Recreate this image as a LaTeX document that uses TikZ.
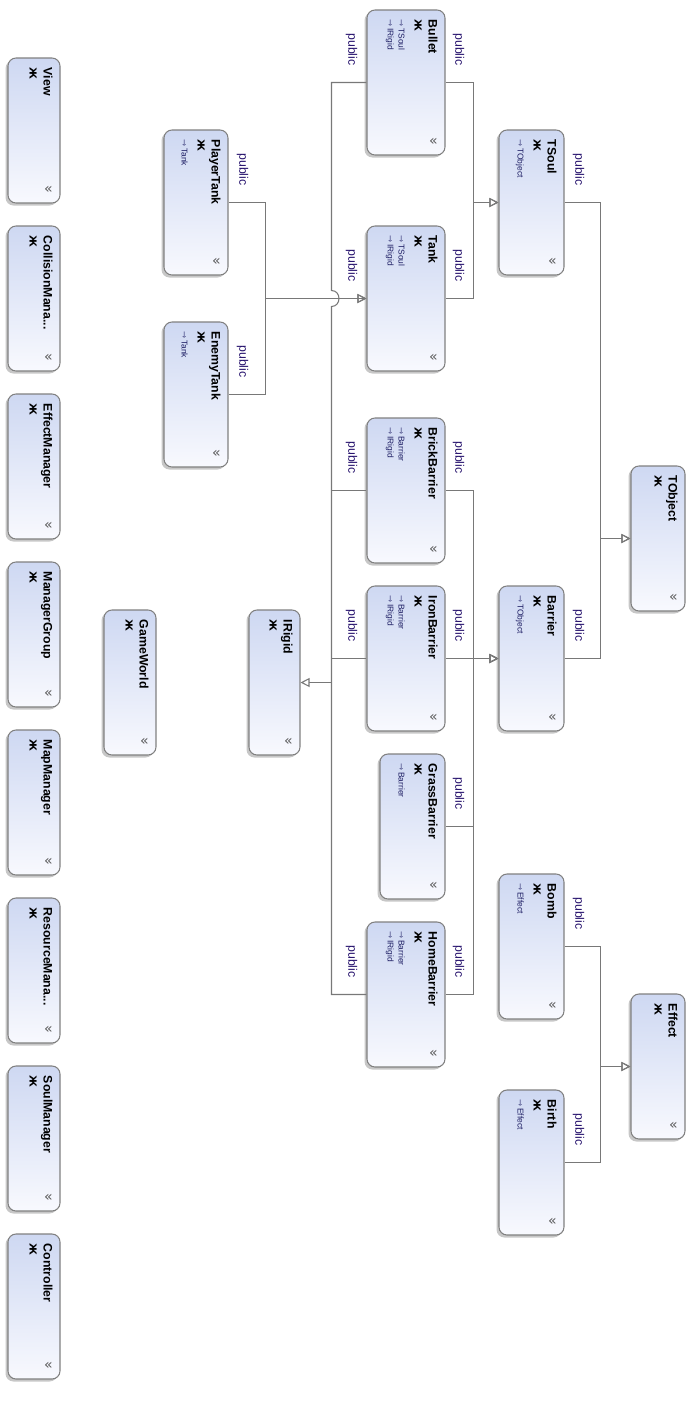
\documentclass[tikz,border=0pt]{standalone}
\usepackage{fontspec}
\setmainfont{Liberation Sans}
\newfontfamily\djv{DejaVu Sans}
\usetikzlibrary{calc,fit,shadows,arrows.meta}
\definecolor{boxtop}{RGB}{206,216,242}
\definecolor{boxbot}{RGB}{248,249,254}
\definecolor{boxline}{RGB}{128,128,128}
\definecolor{connline}{RGB}{120,120,120}
\definecolor{pubcol}{RGB}{40,20,110}
\definecolor{basecol}{RGB}{30,30,100}
\definecolor{chevcol}{RGB}{90,90,90}
\tikzset{
  clsnode/.style={draw=boxline, line width=0.6pt, rounded corners=0.16cm, inner sep=0pt,
    top color=boxtop, bottom color=boxbot,
    drop shadow={shadow xshift=-0.05cm, shadow yshift=-0.05cm, fill=black!22, opacity=1}},
  titletxt/.style={rotate=-90, inner sep=0pt, font=\fontsize{7}{8}\selectfont\bfseries, anchor=base west},
  icontxt/.style={rotate=-90, inner sep=0pt, font=\djv\fontsize{5.5}{6}\selectfont\bfseries, anchor=base west},
  basetxt/.style={rotate=-90, inner sep=0pt, font=\fontsize{4.8}{5}\selectfont, text=basecol, anchor=base west},
  chev/.style={inner sep=0pt, font=\djv\fontsize{8}{8}\selectfont, text=chevcol},
  pub/.style={rotate=-90, inner sep=0pt, font=\fontsize{7}{8}\selectfont, text=pubcol},
  conn/.style={draw=connline, line width=0.6pt},
  inh/.style={conn, -{Triangle[open, length=0.18cm, width=0.18cm]}}
}
\newcommand\clsbox[6]{%
  \path (#2,#3) coordinate (#1-a) (#4,#5) coordinate (#1-b);
  \node[clsnode, fit=(#1-a)(#1-b)] (#1) {};
  \node[titletxt] (#1-t) at ($(#1.north east)+(-17,10)$) {#6};
  \node[icontxt] (#1-i) at ($(#1.north east)+(-31,10)$) {Ж};
  \node[chev] (#1-c) at ($(#1.south east)+(-12,-14)$) {«};
}
\newcommand\clsbase[4]{%
  \node[basetxt] (#1-#2) at ($(#1.north east)+(#3,10)$) {{\djv ⇾}\,#4};
}
\begin{document}
\begin{tikzpicture}[x=0.02cm, y=-0.02cm]
\useasboundingbox (0,0) rectangle (695,1423);

% standalone classes
\clsbox{view}{8}{58}{60}{203}{View}
\clsbox{collision}{8}{226}{60}{371}{CollisionMana...}
\clsbox{effectmgr}{8}{394}{60}{539}{EffectManager}
\clsbox{mgrgroup}{8}{562}{60}{707}{ManagerGroup}
\clsbox{mapmgr}{8}{730}{60}{875}{MapManager}
\clsbox{resmgr}{8}{898}{60}{1043}{ResourceMana...}
\clsbox{soulmgr}{8}{1066}{60}{1211}{SoulManager}
\clsbox{controller}{8}{1234}{60}{1379}{Controller}
\clsbox{gameworld}{104}{610}{156}{755}{GameWorld}

% hierarchy
\clsbox{playertank}{164}{130}{228}{275}{PlayerTank}
\clsbase{playertank}{b1}{-47}{Tank}
\clsbox{enemytank}{164}{322}{228}{467}{EnemyTank}
\clsbase{enemytank}{b1}{-47}{Tank}
\clsbox{irigid}{249}{610}{300}{755}{IRigid}
\clsbox{bullet}{367}{10}{445}{155}{Bullet}
\clsbase{bullet}{b1}{-47}{TSoul}
\clsbase{bullet}{b2}{-58}{IRigid}
\clsbox{tank}{367}{226}{445}{371}{Tank}
\clsbase{tank}{b1}{-47}{TSoul}
\clsbase{tank}{b2}{-58}{IRigid}
\clsbox{brick}{367}{418}{445}{563}{BrickBarrier}
\clsbase{brick}{b1}{-47}{Barrier}
\clsbase{brick}{b2}{-58}{IRigid}
\clsbox{iron}{367}{586}{445}{731}{IronBarrier}
\clsbase{iron}{b1}{-47}{Barrier}
\clsbase{iron}{b2}{-58}{IRigid}
\clsbox{grass}{380}{754}{445}{899}{GrassBarrier}
\clsbase{grass}{b1}{-47}{Barrier}
\clsbox{home}{367}{922}{445}{1067}{HomeBarrier}
\clsbase{home}{b1}{-47}{Barrier}
\clsbase{home}{b2}{-58}{IRigid}
\clsbox{tsoul}{499}{130}{564}{275}{TSoul}
\clsbase{tsoul}{b1}{-47}{TObject}
\clsbox{barrier}{499}{586}{564}{731}{Barrier}
\clsbase{barrier}{b1}{-47}{TObject}
\clsbox{bomb}{499}{874}{564}{1019}{Bomb}
\clsbase{bomb}{b1}{-47}{Effect}
\clsbox{birth}{499}{1090}{564}{1235}{Birth}
\clsbase{birth}{b1}{-47}{Effect}
\clsbox{tobject}{631}{466}{685}{611}{TObject}
\clsbox{effect}{631}{994}{685}{1139}{Effect}

% TSoul
\draw[inh] (bullet.east) -- ++(28,0) |- (tsoul.west);
\draw[inh] (tank.east) -- ++(28,0) |- (tsoul.west);
% Tank
\draw[inh] (playertank.east) -- ++(37,0) |- (tank.west);
\draw[inh] (enemytank.east) -- ++(37,0) |- (tank.west);
% IRigid bus
\coordinate (busx) at ($(bullet.west)+(-35,0)$);
\draw[conn] (bullet.west) -- (busx) -- ($(busx |- tank.west)+(0,-8)$)
  .. controls +(10,0) and +(10,0) .. ($(busx |- tank.west)+(0,8)$)
  -- (busx |- home.west) -- (home.west);
\draw[conn] (tank.west) -- (busx |- tank.west);
\draw[conn] (brick.west) -- (busx |- brick.west);
\draw[conn] (iron.west) -- (busx |- iron.west);
\draw[inh] (busx |- irigid.east) -- (irigid.east);
% Barrier
\draw[inh] (brick.east) -- ++(28,0) |- (barrier.west);
\draw[inh] (iron.east) -- (barrier.west);
\draw[inh] (grass.east) -- ++(28,0) |- (barrier.west);
\draw[inh] (home.east) -- ++(28,0) |- (barrier.west);
% TObject
\draw[inh] (tsoul.east) -- ++(36,0) |- (tobject.west);
\draw[inh] (barrier.east) -- ++(36,0) |- (tobject.west);
% Effect
\draw[inh] (bomb.east) -- ++(36,0) |- (effect.west);
\draw[inh] (birth.east) -- ++(36,0) |- (effect.west);

% public labels
\node[pub] (p1) at ($(bullet.east)+(13,-33)$) {public};
\node[pub] (p2) at ($(bullet.west)+(-15,-33)$) {public};
\node[pub] (p3) at ($(tank.east)+(13,-33)$) {public};
\node[pub] (p4) at ($(tank.west)+(-15,-33)$) {public};
\node[pub] (p5) at ($(playertank.east)+(14,-33)$) {public};
\node[pub] (p6) at ($(enemytank.east)+(14,-33)$) {public};
\node[pub] (p7) at ($(brick.east)+(13,-33)$) {public};
\node[pub] (p8) at ($(brick.west)+(-15,-33)$) {public};
\node[pub] (p9) at ($(iron.east)+(13,-33)$) {public};
\node[pub] (p10) at ($(iron.west)+(-15,-33)$) {public};
\node[pub] (p11) at ($(grass.east)+(13,-33)$) {public};
\node[pub] (p12) at ($(home.east)+(13,-33)$) {public};
\node[pub] (p13) at ($(home.west)+(-15,-33)$) {public};
\node[pub] (p14) at ($(tsoul.east)+(14,-33)$) {public};
\node[pub] (p15) at ($(barrier.east)+(14,-33)$) {public};
\node[pub] (p16) at ($(bomb.east)+(14,-33)$) {public};
\node[pub] (p17) at ($(birth.east)+(14,-33)$) {public};
\end{tikzpicture}
\end{document}
